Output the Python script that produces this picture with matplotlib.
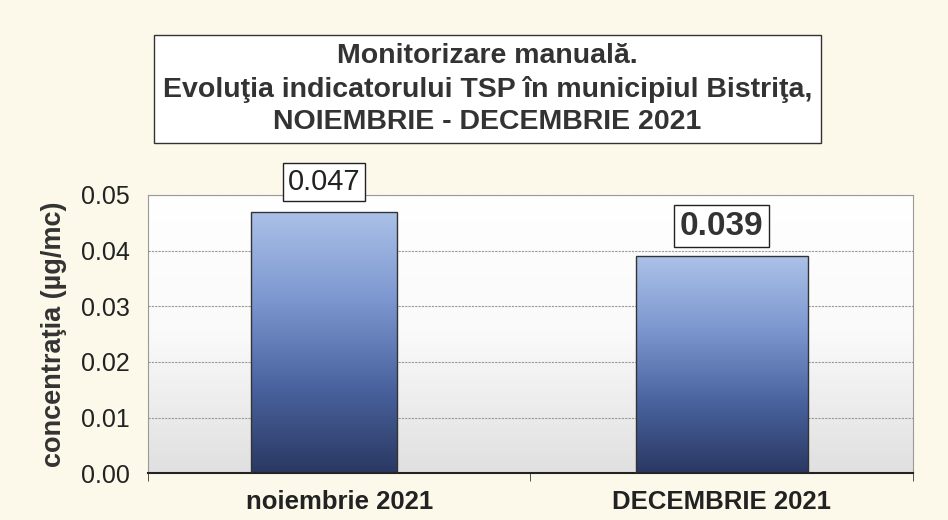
import numpy as np
import matplotlib
matplotlib.use("Agg")
import matplotlib.pyplot as plt
from matplotlib.colors import LinearSegmentedColormap

plt.rcParams['font.family'] = ['Liberation Sans', 'DejaVu Sans']

categories = ['noiembrie 2021', 'DECEMBRIE 2021']
values = [0.047, 0.039]
value_labels = ['0.047', '0.039']
yticks = [0.00, 0.01, 0.02, 0.03, 0.04, 0.05]

fig = plt.figure(figsize=(9.48, 5.20), dpi=100)
fig.patch.set_facecolor('#fcf9ea')

ax = fig.add_axes([0.156, 0.090, 0.807, 0.535])

# plot area background: white at top, light gray at the bottom
bg = np.linspace(0, 1, 256).reshape(-1, 1)
bg_cmap = LinearSegmentedColormap.from_list('bg', ['#ffffff', '#fafafa', '#e0e0e0'])
ax.imshow(bg, cmap=bg_cmap, aspect='auto', extent=[0, 1, 0, 1],
          transform=ax.transAxes, zorder=0, origin='upper')

bar_cmap = LinearSegmentedColormap.from_list('bar', ['#abc1e8', '#7d98d0', '#4a64a0', '#2a3862'])
xpos = [-0.04, 1.0]
widths = [0.38, 0.45]
bars = ax.bar(xpos, values, width=widths, color='none',
              edgecolor='#333333', linewidth=1.0, zorder=3)
grad = np.linspace(0, 1, 256).reshape(-1, 1)
for b in bars:
    x0, y0 = b.get_x(), b.get_y()
    w, h = b.get_width(), b.get_height()
    im = ax.imshow(grad, cmap=bar_cmap, aspect='auto', origin='upper',
                   extent=[x0, x0 + w, y0, y0 + h], zorder=2)
    im.set_clip_path(b)
ax.set_xlim(-0.5, 1.5)
ax.set_ylim(0, 0.05)

# value labels in boxes
ax.text(xpos[0], values[0] + 0.0028, value_labels[0], ha='center', va='bottom',
        fontsize=21, color='#222222', zorder=5,
        bbox=dict(boxstyle='square,pad=0.17', fc='white', ec='#222222', lw=1))
ax.text(xpos[1], values[1] + 0.0026, value_labels[1], ha='center', va='bottom',
        fontsize=24, fontweight='bold', color='#333333', zorder=5,
        bbox=dict(boxstyle='square,pad=0.17', fc='white', ec='#222222', lw=1))

ax.set_yticks(yticks)
ax.set_yticklabels([f'{v:.2f}' for v in yticks], fontsize=18, color='#222222')
ax.tick_params(axis='y', length=0, pad=13)
ax.grid(axis='y', color='#999999', linestyle=(0, (2, 1)), linewidth=0.8, zorder=1)
ax.set_axisbelow(True)

ax.set_xticks([0, 1])
ax.set_xticklabels(categories, fontsize=18.5, fontweight='bold', color='#222222')
ax.set_xticks([-0.5, 0.5, 1.5], minor=True)
ax.tick_params(axis='x', which='major', length=0, pad=12)
ax.tick_params(axis='x', which='minor', length=6, direction='out', color='#333333')

ax.set_ylabel('concentraţia (µg/mc)', fontsize=19.5, fontweight='bold',
              color='#333333', labelpad=10)

for s in ['left', 'right']:
    ax.spines[s].set_color('#999999')
    ax.spines[s].set_linewidth(0.8)
ax.spines['top'].set_color('#999999')
ax.spines['top'].set_linestyle((0, (2, 1)))
ax.spines['top'].set_linewidth(0.8)
ax.spines['bottom'].set_color('#222222')
ax.spines['bottom'].set_linewidth(1.5)

fig.text(0.514, 0.829,
         'Monitorizare manuală.\nEvoluţia indicatorului TSP în municipiul Bistriţa,\nNOIEMBRIE - DECEMBRIE 2021',
         ha='center', va='center', fontsize=20.5, fontweight='bold', color='#333333',
         linespacing=1.3,
         bbox=dict(boxstyle='square,pad=0.3', fc='white', ec='#333333', lw=1))

fig.savefig('out.png', dpi=100, facecolor=fig.get_facecolor())
